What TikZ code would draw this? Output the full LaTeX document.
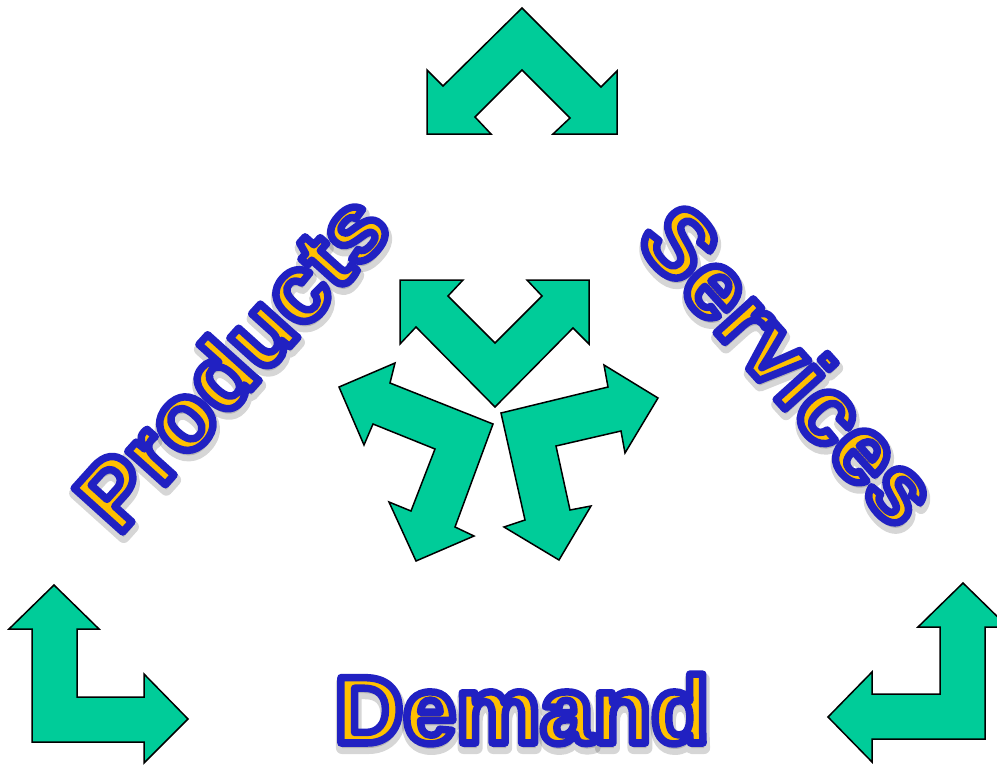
\documentclass[tikz,border=0pt]{standalone}
\usepackage{fontspec}
\newfontfamily\artfont{Liberation Sans}
\definecolor{arrowgreen}{RGB}{0,204,153}
\definecolor{wordgold}{RGB}{255,192,0}
% fill and stroke the glyphs in one go (text render mode 2)
\newcommand\outlined[3]{\special{pdf:literal direct 2 Tr #1 w 1 j #2 RG}#3\special{pdf:literal direct 0 Tr}}
\tikzset{
  bent/.style={draw=black, line width=1.5pt, fill=arrowgreen},
  word/.style={font=\artfont\bfseries\fontsize{95}{100}\selectfont, text=wordgold, inner sep=0pt},
  wordshadow/.style={word, text=black, opacity=0.16},
}

\begin{document}
\begin{tikzpicture}[x=1pt, y=-1pt]
\useasboundingbox (0,0) rectangle (997,766);
\clip (0,0) rectangle (997,766);
% top
\draw[bent] (522,8) -- (601,87) -- (617,71) -- (617,134) -- (553,134) -- (570,118) -- (522,70)
  -- (475,117) -- (491,134) -- (427,134) -- (427,70) -- (443,86) -- cycle;
% centre three
\draw[bent] (400,280) -- (463,280) -- (448,296) -- (495,343) -- (542,296) -- (527,280) -- (589,280)
  -- (589,344) -- (573,328) -- (495,407) -- (416,327) -- (400,344) -- cycle;
\draw[bent] (339,387) -- (395,363) -- (390,383) -- (493,424) -- (455,527) -- (474,536) -- (416,561)
  -- (389,502) -- (411,511) -- (435,449) -- (373,424) -- (364,445) -- cycle;
\draw[bent] (501,413) -- (608,387) -- (604,365) -- (658,398) -- (625,453) -- (621,431) -- (556,446)
  -- (570,510) -- (591,506) -- (559,560) -- (504,527) -- (525,520) -- cycle;
% corners
\draw[bent] (54,585) -- (99,629) -- (77,629) -- (77,697) -- (144,697) -- (144,674) -- (188,719)
  -- (144,763) -- (144,742) -- (32,742) -- (32,629) -- (9,629) -- cycle;
\draw[bent] (963,583) -- (1008,627) -- (985,627) -- (985,739) -- (872,739) -- (872,762) -- (828,717)
  -- (872,672) -- (872,694) -- (940,694) -- (940,627) -- (918,627) -- cycle;
% words, with a soft shadow under each
\node[rotate=48, wordshadow] (products shadow) at (232,366) {\outlined{12}{0 0 0}{Products}};
\node[rotate=-48, wordshadow] (services shadow) at (791,369) {\outlined{12}{0 0 0}{Services}};
\node[wordshadow, anchor=base] (demand shadow) at (523,748) {\outlined{12}{0 0 0}{Demand}};
\node[rotate=48, word] (products) at (231,361) {\outlined{7.5}{0.13 0.13 0.76}{Products}};
\node[rotate=-48, word] (services) at (790,364) {\outlined{7.5}{0.13 0.13 0.76}{Services}};
\node[word, anchor=base] (demand) at (522,743) {\outlined{7.5}{0.13 0.13 0.76}{Demand}};
\end{tikzpicture}
\end{document}
